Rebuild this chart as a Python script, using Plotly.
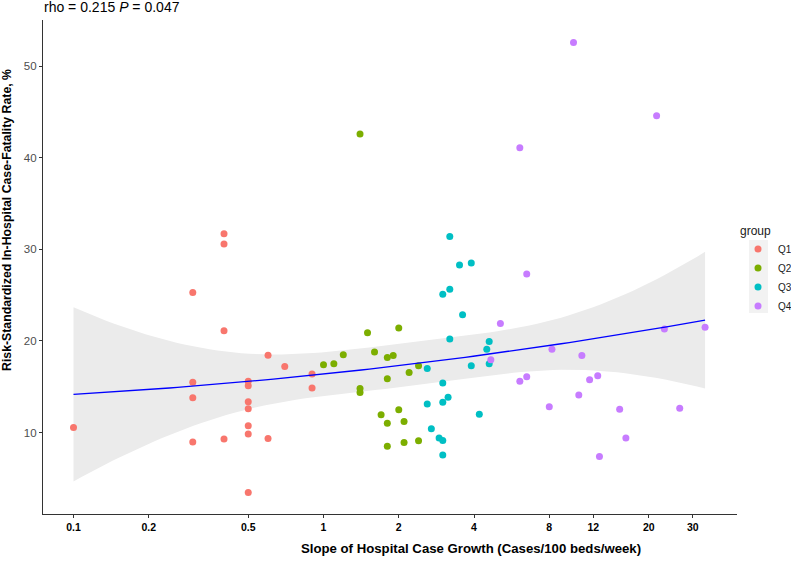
import numpy as np
import plotly.graph_objects as go

# ---- data ----
q1_x = [0.4, 0.4, 0.3, 0.4, 0.6, 0.7, 0.3, 0.5, 0.5, 0.3, 0.5, 0.5, 0.1, 0.5, 0.5, 0.3, 0.4, 0.6, 0.5, 0.9, 0.9]
q1_y = [31.7, 30.6, 25.3, 21.1, 18.45, 17.2, 15.5, 15.6, 15.1, 13.8, 13.35, 12.6, 10.55, 10.75, 9.85, 8.95, 9.3, 9.35, 3.45, 16.4, 14.85]

q2_x = [1.4, 1.5, 2.0, 1.0, 1.1, 1.2, 1.6, 1.8, 1.9, 2.4, 2.2, 1.8, 1.4, 1.4, 1.7, 2.0, 1.8, 2.1, 1.8, 2.1, 2.4]
q2_y = [42.6, 20.9, 21.4, 17.4, 17.5, 18.5, 18.8, 18.2, 18.4, 17.3, 16.55, 15.86, 14.8, 14.37, 11.93, 12.48, 11.0, 11.2, 8.5, 8.9, 9.1]

q3_x = [3.2, 3.5, 3.9, 3.0, 3.2, 3.6, 3.2, 4.6, 4.5, 4.6, 3.9, 2.6, 3.0, 3.15, 3.0, 2.6, 4.2, 2.7, 2.9, 3.0, 3.0]
q3_y = [31.4, 28.3, 28.5, 25.1, 25.65, 22.85, 20.2, 19.93, 19.1, 17.5, 17.3, 17.0, 15.4, 13.86, 13.3, 13.1, 12.0, 10.4, 9.39, 9.13, 7.53]

q4_x = [10.0, 21.5, 6.1, 6.5, 5.1, 23.1, 33.6, 8.2, 10.8, 4.67, 6.1, 6.5, 11.6, 12.5, 10.5, 8.0, 15.3, 26.6, 16.2, 12.7]
q4_y = [52.6, 44.6, 41.1, 27.3, 21.9, 21.3, 21.5, 19.1, 18.4, 17.94, 15.6, 16.1, 15.75, 16.2, 14.1, 12.8, 12.55, 12.65, 9.39, 7.38]

groups = ["Q1", "Q2", "Q3", "Q4"]
xs = [q1_x, q2_x, q3_x, q4_x]
ys = [q1_y, q2_y, q3_y, q4_y]
colors = ["#F8766D", "#7CAE00", "#00BFC4", "#C77CFF"]

x_ticks = [0.1, 0.2, 0.5, 1, 2, 4, 8, 12, 20, 30]
x_ticktext = ["0.1", "0.2", "0.5", "1", "2", "4", "8", "12", "20", "30"]
y_ticks = [10, 20, 30, 40, 50]

# ---- quadratic fit on log10(x) with 95% CI ----
allx = np.log10(np.concatenate([np.array(v, float) for v in xs]))
ally = np.concatenate([np.array(v, float) for v in ys])
n = len(allx)
X = np.column_stack([np.ones(n), allx, allx ** 2])
beta, *_ = np.linalg.lstsq(X, ally, rcond=None)
resid = ally - X @ beta
p = X.shape[1]
s2 = np.sum(resid ** 2) / (n - p)
XtXi = np.linalg.inv(X.T @ X)
tq = 1.99
gx = np.linspace(allx.min(), allx.max(), 80)
G = np.column_stack([np.ones_like(gx), gx, gx ** 2])
fit = G @ beta
se = np.sqrt(s2 * np.einsum("ij,jk,ik->i", G, XtXi, G))
lo = fit - tq * se
hi = fit + tq * se
gxv = 10 ** gx

fig = go.Figure()
fig.add_trace(go.Scatter(
    x=np.concatenate([gxv, gxv[::-1]]), y=np.concatenate([hi, lo[::-1]]),
    fill="toself", fillcolor="#EBEBEB", line=dict(width=0), mode="lines",
    showlegend=False, hoverinfo="skip"))

for g, x, y, c in zip(groups, xs, ys, colors):
    fig.add_trace(go.Scatter(x=x, y=y, mode="markers", name=g,
                             marker=dict(color=c, size=7, line=dict(width=0))))

fig.add_trace(go.Scatter(x=gxv, y=fit, mode="lines", line=dict(color="#0000FF", width=1.3),
                         showlegend=False, hoverinfo="skip"))

L, R, T, B = 43, 54, 20, 47
pw = 791 - L - R
ph = 561 - T - B


def px_to_paper_x(px):
    return (px - L) / pw


def px_to_paper_y(py):
    return (561 - B - py) / ph


fig.update_layout(
    width=791, height=561,
    margin=dict(l=L, r=R, t=T, b=B, autoexpand=False),
    plot_bgcolor="white", paper_bgcolor="white",
    font=dict(family="Liberation Sans, Arial, sans-serif", color="#000000"),
    xaxis=dict(type="log", range=[-1.122, 1.654], tickvals=x_ticks, ticktext=x_ticktext,
               showgrid=False, zeroline=False, showline=True, linecolor="#333333", linewidth=1.2,
               ticks="outside", ticklen=3, tickcolor="#333333",
               tickfont=dict(size=10.5, color="#000000", family="Liberation Sans, Arial, sans-serif", weight="bold")),
    yaxis=dict(range=[1.1, 55.05], tickvals=y_ticks, showgrid=False, zeroline=False,
               showline=True, linecolor="#333333", linewidth=1.2,
               ticks="outside", ticklen=3, tickcolor="#333333",
               tickfont=dict(size=11.5, color="#4D4D4D")),
    legend=dict(x=px_to_paper_x(738), y=px_to_paper_y(219), xanchor="left", yanchor="top",
                title=dict(text="group", font=dict(size=12, color="#1a1a1a")),
                font=dict(size=10, color="#1a1a1a"), bgcolor="rgba(0,0,0,0)",
                itemwidth=30, tracegroupgap=0),
    shapes=[dict(type="rect", xref="paper", yref="paper",
                 x0=px_to_paper_x(749), x1=px_to_paper_x(768),
                 y0=px_to_paper_y(313), y1=px_to_paper_y(240),
                 fillcolor="#F2F2F2", line=dict(width=0), layer="below")],
    annotations=[
        dict(text="rho = 0.215 <i>P</i> = 0.047", xref="paper", yref="paper",
             x=px_to_paper_x(42), y=px_to_paper_y(7), xanchor="left", yanchor="middle",
             showarrow=False, font=dict(size=14, color="#000000")),
        dict(text="<b>Slope of Hospital Case Growth (Cases/100 beds/week)</b>", xref="paper", yref="paper",
             x=px_to_paper_x(471), y=px_to_paper_y(548), xanchor="center", yanchor="middle",
             showarrow=False, font=dict(size=13.2, color="#000000")),
        dict(text="<b>Risk-Standardized In-Hospital Case-Fatality Rate, %</b>", xref="paper", yref="paper",
             x=px_to_paper_x(7), y=px_to_paper_y(220), xanchor="center", yanchor="middle",
             textangle=-90, showarrow=False, font=dict(size=12.3, color="#000000")),
    ],
)

fig.write_html("out.html", config={"displayModeBar": False},
               post_script="document.body.style.margin='0';")
